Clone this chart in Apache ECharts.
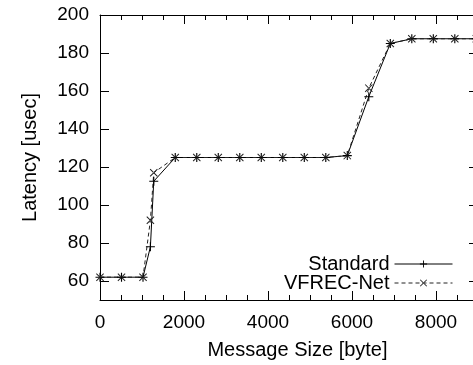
<!DOCTYPE html>
<html>
<head>
<meta charset="utf-8">
<script src="https://cdn.jsdelivr.net/npm/echarts@6/dist/echarts.min.js"></script>
<style>html,body{margin:0;padding:0;background:#fff;}#c{width:473px;height:365px;}</style>
</head>
<body>
<div id="c"></div>
<script>
var sizes = [0, 512, 1024, 1200, 1280, 1792, 2304, 2816, 3328, 3840, 4352, 4864, 5376, 5888, 6400, 6912, 7424, 7936, 8448, 8960];
var standard = [62, 62, 62, 78, 112.5, 125, 125, 125, 125, 125, 125, 125, 125, 126, 157, 185, 187.5, 187.5, 187.5, 187.5];
var vfrec = [62, 62, 62, 92, 117, 125, 125, 125, 125, 125, 125, 125, 125, 126, 161.5, 185, 187.5, 187.5, 187.5, 187.5];
var xMajorTicks = [0, 2000, 4000, 6000, 8000];
var yTicks = [60, 80, 100, 120, 140, 160, 180, 200];

var FONT = 'Liberation Sans';
var TICKC = '#000';
var plusPath = 'path://M-0.5,-4h1v8h-1zM-4,-0.5h8v1h-8z';
var crossPath = 'path://M-4,-3.3L-3.3,-4L4,3.3L3.3,4ZM4,-3.3L3.3,-4L-4,3.3L-3.3,4Z';

function pairs(xs, ys) { return xs.map(function (x, i) { return [x, ys[i]]; }); }

var lineOn = { show: true, onZero: false, lineStyle: { color: '#000', width: 1 } };
var lineOff = { show: false, onZero: false };

function xFrame(pos, withLabels) {
  var a = {
    type: 'value', position: pos, min: 0, max: 9000, interval: 500,
    axisLine: lineOn, splitLine: { show: false },
    axisTick: { show: false }, axisLabel: { show: false }
  };
  if (withLabels) {
    a.axisLabel = { show: true, customValues: xMajorTicks, margin: 13, color: '#000', fontFamily: FONT, fontSize: 19, formatter: function (v) { return String(v); } };
    a.name = 'Message Size [byte]';
    a.nameLocation = 'middle';
    a.nameGap = 40;
    a.nameTextStyle = { color: '#000', fontFamily: FONT, fontSize: 20, padding: [0, 0, 0, 17] };
  }
  return a;
}
function xTicks(pos, major) {
  var len = major ? 9 : 5;
  var a = {
    type: 'value', position: pos, offset: -len, min: 0, max: 9000, interval: 500,
    axisLine: lineOff, splitLine: { show: false }, axisLabel: { show: false },
    axisTick: { show: true, length: len, lineStyle: { color: TICKC, width: 1 } }
  };
  if (major) a.axisTick.customValues = xMajorTicks;
  return a;
}
function yFrame(pos, withLabels) {
  var a = {
    type: 'value', position: pos, min: 50, max: 200,
    axisLine: lineOn, splitLine: { show: false },
    axisTick: { show: false }, axisLabel: { show: false }
  };
  if (withLabels) {
    a.axisLabel = { show: true, customValues: yTicks, margin: 11, color: '#000', fontFamily: FONT, fontSize: 19 };
    a.name = 'Latency [usec]';
    a.nameLocation = 'middle';
    a.nameGap = 60;
    a.nameTextStyle = { color: '#000', fontFamily: FONT, fontSize: 20 };
  }
  return a;
}
function yTicksAx(pos) {
  return {
    type: 'value', position: pos, offset: -9, min: 50, max: 200,
    axisLine: lineOff, splitLine: { show: false }, axisLabel: { show: false },
    axisTick: { show: true, length: 9, customValues: yTicks, lineStyle: { color: TICKC, width: 1 } }
  };
}

var chart = echarts.init(document.getElementById('c'), null, { renderer: 'canvas' });
chart.setOption({
  animation: false,
  backgroundColor: '#fff',
  grid: { left: 100, right: -5, top: 15, bottom: 65, outerBoundsMode: 'none', containLabel: false },
  xAxis: [xFrame('bottom', true), xFrame('top', false), xTicks('bottom', false), xTicks('bottom', true), xTicks('top', false), xTicks('top', true)],
  yAxis: [yFrame('left', true), yFrame('right', false), yTicksAx('left'), yTicksAx('right')],
  legend: {
    orient: 'vertical', right: 15, top: 249, align: 'right', itemGap: -1,
    itemWidth: 58, itemHeight: 9,
    lineStyle: { width: 1 },
    textStyle: { color: '#000', fontFamily: FONT, fontSize: 20, lineHeight: 19 },
    data: ['Standard', 'VFREC-Net']
  },
  series: [
    {
      name: 'Standard', type: 'line', xAxisIndex: 0, yAxisIndex: 0,
      data: pairs(sizes, standard),
      symbol: plusPath, symbolSize: 9,
      itemStyle: { color: '#000' },
      lineStyle: { color: '#000', width: 1, type: 'solid' },
      clip: false
    },
    {
      name: 'VFREC-Net', type: 'line', xAxisIndex: 0, yAxisIndex: 0,
      data: pairs(sizes, vfrec),
      symbol: crossPath, symbolSize: 8,
      itemStyle: { color: '#222' },
      lineStyle: { color: '#222', width: 1, type: [4, 3] },
      clip: false
    }
  ]
});
</script>
</body>
</html>
